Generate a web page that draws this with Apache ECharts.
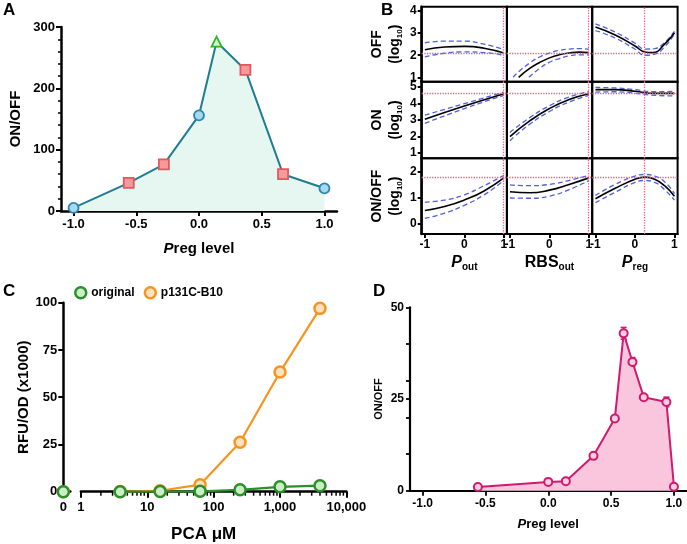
<!DOCTYPE html>
<html><head><meta charset="utf-8">
<script src="https://cdn.jsdelivr.net/npm/echarts@6/dist/echarts.min.js"></script>
<style>html,body{margin:0;padding:0;background:#fff}#c{width:687px;height:544px}</style>
</head><body><div id="c"></div>
<script>
// ---------------- DATA ----------------
// Panel A
const aX = [-1.0, -0.56, -0.28, 0.0, 0.14, 0.37, 0.67, 1.0];
const aY = [5, 46, 76, 156, 276, 230, 60, 37];
const aGroup = ['circle', 'square', 'square', 'circle', 'triangle', 'square', 'square', 'circle'];
const aXTicks = [-1, -0.5, 0, 0.5, 1];
// Panel C
const cDose = [0, 3.9, 15.6, 62.5, 250, 1000, 4000];
const cOriginal = [0, 0, 0.1, 0.2, 1.0, 2.6, 3.2];
const cB10 = [0, 0.1, 0.5, 3.7, 26.2, 63.3, 97.0];
const cNames = ['original', 'p131C-B10'];
const cMinorTicks = [2,3,4,5,6,7,8,9,20,30,40,50,60,70,80,90,200,300,400,500,600,700,800,900,2000,3000,4000,5000,6000,7000,8000,9000];
// Panel D
const dX = [-0.56, 0.0, 0.14, 0.36, 0.53, 0.60, 0.67, 0.76, 0.94, 1.0];
const dY = [1.0, 2.4, 2.6, 9.5, 19.7, 42.9, 35.1, 25.5, 24.2, 1.1];
const dErr = [0.3, 0.3, 0.3, 0.4, 0.4, 1.6, 1.2, 0.4, 1.3, 0.3];
const dXTicks = [-1, -0.5, 0, 0.5, 1];
const dYLabels = [0, 25, 50];
const dYTicks = [0, 10, 20, 25, 30, 40, 50];
// Panel B
const bRowNames = ['OFF', 'ON', 'ON/OFF'];
const bRowTicks = [[1, 2, 3, 4], [1, 2, 3, 4, 5], [0, 1, 2]];
const bRowRange = [[0.8, 4.2], [0.68, 5.33], [-0.4, 2.5]];
const bColTicks = [-1, 0, 1];
const bCrossX = [0.98, 0.98, 0.24];
const bCrossY = [2.1, 4.64, 1.78];
// row OFF
const offPoutFit = [[-1,2.25],[-0.5,2.37],[0,2.40],[0.5,2.32],[1,2.10]];
const offPoutHi  = [[-1,2.56],[-0.5,2.64],[0,2.64],[0.5,2.50],[1,2.26]];
const offPoutLo  = [[-1,1.93],[-0.5,2.09],[0,2.15],[0.5,2.12],[1,2.00]];
const offRbsFit  = [[-0.78,1.0],[-0.5,1.4],[-0.25,1.67],[0,1.88],[0.25,2.02],[0.5,2.1],[0.75,2.14],[1,2.12]];
const offRbsHi   = [[-0.92,1.0],[-0.75,1.3],[-0.5,1.65],[-0.25,1.92],[0,2.1],[0.25,2.22],[0.5,2.28],[0.75,2.3],[1,2.28]];
const offRbsLo   = [[-0.52,1.0],[-0.25,1.4],[0,1.68],[0.25,1.85],[0.5,1.97],[0.75,2.02],[1,2.02]];
const offPregFit = [[-1,3.28],[-0.5,2.92],[0,2.42],[0.25,2.15],[0.45,2.12],[0.75,2.5],[1,3.02]];
const offPregHi  = [[-1,3.42],[-0.5,3.05],[0,2.55],[0.25,2.28],[0.5,2.3],[0.75,2.58],[1,3.08]];
const offPregLo  = [[-1,3.12],[-0.5,2.78],[0,2.28],[0.25,2.0],[0.5,2.05],[0.75,2.38],[1,2.95]];
// row ON
const onPoutFit = [[-1,3.05],[0,3.85],[1,4.6]];
const onPoutHi  = [[-1,3.3],[0,4.0],[1,4.7]];
const onPoutLo  = [[-1,2.8],[0,3.7],[1,4.5]];
const onRbsFit  = [[-1,2.0],[-0.5,2.95],[0,3.7],[0.5,4.25],[1,4.6]];
const onRbsHi   = [[-1,2.25],[-0.5,3.15],[0,3.87],[0.5,4.4],[1,4.72]];
const onRbsLo   = [[-1,1.75],[-0.5,2.75],[0,3.52],[0.5,4.1],[1,4.5]];
const onPregFit = [[-1,4.85],[-0.5,4.85],[0,4.75],[0.5,4.62],[1,4.62]];
const onPregHi  = [[-1,4.98],[-0.5,4.95],[0,4.85],[0.5,4.72],[1,4.75]];
const onPregLo  = [[-1,4.7],[-0.5,4.72],[0,4.63],[0.5,4.5],[1,4.47]];
// row ON/OFF
const ratioPoutFit = [[-1,0.5],[-0.5,0.65],[0,0.9],[0.5,1.25],[1,1.75]];
const ratioPoutHi  = [[-1,0.82],[-0.5,0.9],[0,1.1],[0.5,1.45],[1,1.85]];
const ratioPoutLo  = [[-1,0.2],[-0.5,0.4],[0,0.7],[0.5,1.1],[1,1.65]];
const ratioRbsFit  = [[-1,1.22],[-0.5,1.18],[0,1.28],[0.5,1.5],[1,1.75]];
const ratioRbsHi   = [[-1,1.48],[-0.5,1.45],[0,1.5],[0.5,1.65],[1,1.85]];
const ratioRbsLo   = [[-1,0.98],[-0.5,0.97],[0,1.05],[0.5,1.3],[1,1.65]];
const ratioPregFit = [[-1,0.95],[-0.5,1.35],[0,1.7],[0.25,1.78],[0.5,1.7],[0.75,1.45],[1,1.05]];
const ratioPregHi  = [[-1,1.08],[-0.5,1.5],[0,1.82],[0.25,1.88],[0.5,1.82],[0.75,1.6],[1,1.15]];
const ratioPregLo  = [[-1,0.8],[-0.5,1.2],[0,1.58],[0.25,1.65],[0.5,1.58],[0.75,1.3],[1,0.9]];

// ---------------- STYLE / LAYOUT ----------------
const FONT = '"Liberation Sans", Arial, Helvetica, sans-serif';
const lbl = (size) => ({color: '#000', fontWeight: 'bold', fontSize: size, fontFamily: FONT});
const richName = (size) => ({
  i: {fontStyle: 'italic', fontWeight: 'bold', fontSize: size, fontFamily: FONT, color: '#000'},
  n: {fontWeight: 'bold', fontSize: size, fontFamily: FONT, color: '#000'},
  s: {fontWeight: 'bold', fontSize: Math.round(size * 0.6), fontFamily: FONT, color: '#000', verticalAlign: 'bottom', padding: [Math.round(size*0.5), 0, 0, 0]}
});

const grids = [], xAxes = [], yAxes = [], series = [];
function addGrid(g) { grids.push(g); return grids.length - 1; }

// ----- Panel A -----
const gA = addGrid({left: 61, top: 27, width: 276, height: 184});
xAxes.push({gridIndex: gA, type: 'value', min: -1.1, max: 1.1,
  axisLine: {onZero: false, lineStyle: {color: '#000', width: 2.5}},
  axisTick: {customValues: aXTicks, length: 5, lineStyle: {color: '#000', width: 2}},
  axisLabel: Object.assign({customValues: aXTicks, formatter: v => v.toFixed(1), margin: 7}, lbl(13)),
  splitLine: {show: false},
  name: '{i|P}{n|reg level}', nameLocation: 'middle', nameGap: 30,
  nameTextStyle: {rich: richName(15)}});
yAxes.push({gridIndex: gA, type: 'value', min: 0, max: 300, interval: 100,
  axisLine: {show: true, onZero: false, lineStyle: {color: '#000', width: 2.5}},
  axisTick: {show: true, length: 5, lineStyle: {color: '#000', width: 2}},
  minorTick: {show: true, splitNumber: 5, length: 3, lineStyle: {color: '#000', width: 1.5}},
  axisLabel: Object.assign({margin: 6}, lbl(13)),
  splitLine: {show: false},
  name: 'ON/OFF', nameLocation: 'middle', nameGap: 38, nameTextStyle: lbl(15)});
const aStyles = {
  circle:   {symbol: 'circle', itemStyle: {color: '#a6d8ee', borderColor: '#2a86ad', borderWidth: 1.8}},
  square:   {symbol: 'rect', itemStyle: {color: '#f49a9a', borderColor: '#e2585c', borderWidth: 1.8}},
  triangle: {symbol: 'triangle', itemStyle: {color: '#d8f7d0', borderColor: '#2bb52b', borderWidth: 1.8}}
};
series.push({type: 'line', xAxisIndex: xAxes.length - 1, yAxisIndex: yAxes.length - 1,
  data: aX.map((x, i) => Object.assign({value: [x, aY[i]]}, aStyles[aGroup[i]])),
  symbolSize: 10, lineStyle: {color: '#1f7d91', width: 2},
  areaStyle: {color: '#e6f7f2', opacity: 1}, z: 3});

// ----- Panel C -----
const cTop = 302.7, cH = 189;
const gC0 = addGrid({left: 63.3, top: cTop, width: 7, height: cH});
const xC0 = xAxes.length;
xAxes.push({gridIndex: gC0, type: 'value', min: 0, max: 1,
  axisLine: {onZero: false, lineStyle: {color: '#000', width: 2.5}},
  axisTick: {customValues: [0], length: 6, lineStyle: {color: '#000', width: 2}},
  axisLabel: Object.assign({customValues: [0], margin: 9}, lbl(13)),
  splitLine: {show: false}});
const yC0 = yAxes.length;
yAxes.push({gridIndex: gC0, type: 'value', min: 0, max: 100, interval: 25,
  axisLine: {show: true, onZero: false, lineStyle: {color: '#000', width: 2.5}},
  axisTick: {show: true, length: 5, lineStyle: {color: '#000', width: 2}},
  axisLabel: Object.assign({margin: 6}, lbl(13)),
  splitLine: {show: false},
  name: 'RFU/OD (x1000)', nameLocation: 'middle', nameGap: 30, nameTextStyle: lbl(15)});
const gC1 = addGrid({left: 80.9, top: cTop, width: 265.5, height: cH});
const xC1 = xAxes.length;
xAxes.push({gridIndex: gC1, type: 'log', logBase: 10, min: 1, max: 10000,
  axisLine: {onZero: false, lineStyle: {color: '#000', width: 2.5}},
  axisTick: {length: 6, lineStyle: {color: '#000', width: 2}},
  axisLabel: Object.assign({margin: 9, formatter: v => Number(v).toLocaleString('en-US')}, lbl(13)),
  splitLine: {show: false},
  name: 'PCA \u03bcM', nameLocation: 'middle', nameGap: 34,
  nameTextStyle: Object.assign({padding: [0, 20, 0, 0]}, lbl(17))});
const yC1 = yAxes.length;
yAxes.push({gridIndex: gC1, type: 'value', min: 0, max: 100, show: false});
const cColors = [
  {line: '#2b8f2b', fill: '#c9efc2'},
  {line: '#f7941d', fill: '#fde2c2'}
];
[cOriginal, cB10].forEach((vals, k) => {
  const common = {type: 'line', name: cNames[k], symbol: 'circle', symbolSize: 11,
    itemStyle: {color: cColors[k].fill, borderColor: cColors[k].line, borderWidth: 2.5},
    lineStyle: {color: cColors[k].line, width: 2.2}, z: 4 - k};
  series.push(Object.assign({}, common, {xAxisIndex: xC0, yAxisIndex: yC0,
    data: cDose.map((d, i) => [d, vals[i]]).filter(p => p[0] === 0), clip: false}));
  series.push(Object.assign({}, common, {xAxisIndex: xC1, yAxisIndex: yC1,
    data: cDose.map((d, i) => [d, vals[i]]).filter(p => p[0] > 0), clip: false}));
});
series.push({type: 'custom', xAxisIndex: xC1, yAxisIndex: yC1, silent: true, clip: false, z: 1,
  data: cMinorTicks.map(v => [v, 0]),
  renderItem: (params, api) => {
    const p = api.coord([api.value(0), 0]);
    return {type: 'line', shape: {x1: p[0], y1: p[1], x2: p[0], y2: p[1] + 4},
      style: {stroke: '#000', lineWidth: 1.5}};
  }});

// ----- Panel D -----
const gD = addGrid({left: 410, top: 307.3, width: 276.5, height: 183.4});
const xD = xAxes.length;
xAxes.push({gridIndex: gD, type: 'value', min: -1.1, max: 1.1,
  axisLine: {onZero: false, lineStyle: {color: '#000', width: 2.2}},
  axisTick: {customValues: dXTicks, length: 5, lineStyle: {color: '#000', width: 1.8}},
  axisLabel: Object.assign({customValues: dXTicks, formatter: v => v.toFixed(1), margin: 7}, lbl(12)),
  splitLine: {show: false},
  name: '{i|P}{n|reg level}', nameLocation: 'middle', nameGap: 27,
  nameTextStyle: {rich: richName(13)}});
const yD = yAxes.length;
yAxes.push({gridIndex: gD, type: 'value', min: 0, max: 50,
  axisLine: {show: true, onZero: false, lineStyle: {color: '#000', width: 2.2}},
  axisTick: {show: true, customValues: dYTicks, length: 4, lineStyle: {color: '#000', width: 1.8}},
  axisLabel: Object.assign({customValues: dYLabels, margin: 6}, lbl(12)),
  splitLine: {show: false},
  name: 'ON/OFF', nameLocation: 'middle', nameGap: 26, nameTextStyle: lbl(11)});
series.push({type: 'custom', xAxisIndex: xD, yAxisIndex: yD, z: 2, silent: true,
  data: dX.map((x, i) => [x, dY[i], dErr[i]]),
  renderItem: (params, api) => {
    const x = api.value(0), y = api.value(1), e = api.value(2);
    const t = api.coord([x, y + e]), b = api.coord([x, y - e]);
    const st = {stroke: '#cf1a6f', lineWidth: 1.6};
    return {type: 'group', children: [
      {type: 'line', shape: {x1: t[0], y1: t[1], x2: b[0], y2: b[1]}, style: st},
      {type: 'line', shape: {x1: t[0] - 3, y1: t[1], x2: t[0] + 3, y2: t[1]}, style: st},
      {type: 'line', shape: {x1: b[0] - 3, y1: b[1], x2: b[0] + 3, y2: b[1]}, style: st}
    ]};
  }});
series.push({type: 'line', xAxisIndex: xD, yAxisIndex: yD, z: 3,
  data: dX.map((x, i) => [x, dY[i]]), symbol: 'circle', symbolSize: 8,
  itemStyle: {color: '#fbd0e3', borderColor: '#cf1a6f', borderWidth: 2},
  lineStyle: {color: '#cf1a6f', width: 2},
  areaStyle: {color: '#f9c6de', opacity: 1}});

// ----- Panel B -----
const bLeft = [421.7, 506.8, 592.3];
const bWidth = 85.3;
const bTop = [6.7, 81.7, 158.3];
const bHeight = [75, 76.6, 75.7];
const bCurves = [
  [[offPoutFit, offPoutHi, offPoutLo], [offRbsFit, offRbsHi, offRbsLo], [offPregFit, offPregHi, offPregLo]],
  [[onPoutFit, onPoutHi, onPoutLo], [onRbsFit, onRbsHi, onRbsLo], [onPregFit, onPregHi, onPregLo]],
  [[ratioPoutFit, ratioPoutHi, ratioPoutLo], [ratioRbsFit, ratioRbsHi, ratioRbsLo], [ratioPregFit, ratioPregHi, ratioPregLo]]
];
const bXNames = ['{i|P}{s|out}', '{n|RBS}{s|out}', '{i|P}{s|reg}'];
for (let r = 0; r < 3; r++) {
  for (let c = 0; c < 3; c++) {
    const g = addGrid({left: bLeft[c], top: bTop[r], width: bWidth, height: bHeight[r],
      show: true, borderColor: '#000', borderWidth: 2, backgroundColor: 'rgba(0,0,0,0)'});
    const xi = xAxes.length, yi = yAxes.length;
    const bottom = r === 2, left = c === 0;
    xAxes.push({gridIndex: g, type: 'value', min: -1.08, max: 1.08,
      axisLine: {show: bottom, onZero: false, lineStyle: {color: '#000', width: 2}},
      axisTick: {show: bottom, customValues: bColTicks, length: 4, lineStyle: {color: '#000', width: 2}},
      axisLabel: Object.assign({show: bottom, customValues: bColTicks, margin: 5}, lbl(12)),
      splitLine: {show: false},
      name: bottom ? bXNames[c] : '', nameLocation: 'middle', nameGap: 20,
      nameTextStyle: {rich: richName(16)}});
    yAxes.push({gridIndex: g, type: 'value', min: bRowRange[r][0], max: bRowRange[r][1],
      axisLine: {show: left, onZero: false, lineStyle: {color: '#000', width: 2.5}},
      axisTick: {show: left, customValues: bRowTicks[r], length: 4, lineStyle: {color: '#000', width: 2}},
      axisLabel: Object.assign({show: left, customValues: bRowTicks[r], margin: 5}, lbl(12)),
      splitLine: {show: false},
      name: left ? '{n|' + bRowNames[r] + '}\n{n|(log}{s|10}{n|)}' : '',
      nameLocation: 'middle', nameGap: 18,
      nameTextStyle: {lineHeight: 18, rich: {
        n: {fontWeight: 'bold', fontSize: 14, fontFamily: FONT, color: '#000', lineHeight: 18},
        s: {fontWeight: 'bold', fontSize: 8, fontFamily: FONT, color: '#000', verticalAlign: 'bottom', lineHeight: 18, padding: [6, 0, 0, 0]}
      }}});
    const [fit, hi, lo] = bCurves[r][c];
    series.push({type: 'line', xAxisIndex: xi, yAxisIndex: yi, data: fit, smooth: true,
      showSymbol: false, symbol: 'none', lineStyle: {color: '#000', width: 1.6}, z: 4,
      markLine: {silent: true, symbol: 'none', label: {show: false}, animation: false,
        lineStyle: {color: '#ef5f84', type: 'dotted', width: 1.3},
        data: [{xAxis: bCrossX[c]}, {yAxis: bCrossY[r]}]}});
    [hi, lo].forEach(d => series.push({type: 'line', xAxisIndex: xi, yAxisIndex: yi, data: d, smooth: true,
      showSymbol: false, symbol: 'none', z: 3,
      lineStyle: {color: '#4f62dc', width: 1.3, type: [5, 3]}}));
  }
}

// ----- Panel letters -----
const letter = (t, x, y) => ({type: 'text', left: x, top: y, style: {text: t, font: 'bold 17px ' + FONT, fill: '#000'}});

const chart = echarts.init(document.getElementById('c'), null, {renderer: 'canvas'});
chart.setOption({
  animation: false,
  backgroundColor: '#fff',
  textStyle: {fontFamily: FONT},
  grid: grids, xAxis: xAxes, yAxis: yAxes, series: series,
  legend: {top: 281, left: 69, itemWidth: 11, itemHeight: 11, itemGap: 9,
    textStyle: lbl(12),
    data: [
      {name: cNames[0], icon: 'circle', itemStyle: {color: cColors[0].fill, borderColor: cColors[0].line, borderWidth: 2.5}},
      {name: cNames[1], icon: 'circle', itemStyle: {color: cColors[1].fill, borderColor: cColors[1].line, borderWidth: 2.5}}
    ]},
  graphic: [letter('A', 3, 2), letter('B', 381, 2), letter('C', 3, 283), letter('D', 373, 283)]
});
</script></body></html>
